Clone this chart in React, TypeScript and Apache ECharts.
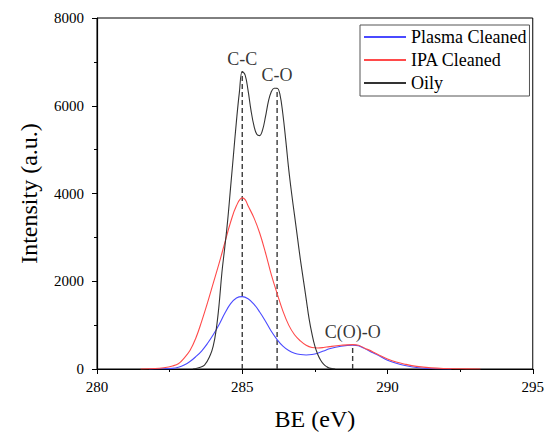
import React, { useEffect, useRef } from "react";
import * as echarts from "echarts";

const oilyBE = [283.3, 283.5, 283.7, 283.9, 284.0, 284.1, 284.2, 284.3, 284.4, 284.5, 284.6, 284.7, 284.8, 284.9, 285.0, 285.1, 285.2, 285.3, 285.4, 285.5, 285.6, 285.7, 285.8, 285.9, 286.0, 286.1, 286.2, 286.3, 286.4, 286.5, 286.6, 286.7, 286.8, 286.9, 287.0, 287.1, 287.2, 287.3, 287.4, 287.5, 287.6, 287.7, 287.8, 287.9, 288.0, 288.2];
const oilyIntensity = [0, 30, 90, 320, 520, 880, 1450, 2200, 2780, 3400, 4150, 4900, 5650, 6300, 6780, 6700, 6350, 5900, 5550, 5350, 5320, 5450, 5750, 6100, 6320, 6400, 6400, 6250, 5800, 5200, 4550, 4000, 3500, 3000, 2500, 2050, 1600, 1150, 800, 520, 330, 200, 110, 55, 20, 0];

const ipaBE = [281.5, 282.0, 282.3, 282.6, 282.8, 283.0, 283.2, 283.4, 283.6, 283.8, 284.0, 284.2, 284.4, 284.6, 284.8, 285.0, 285.1, 285.2, 285.4, 285.6, 285.8, 286.0, 286.2, 286.4, 286.6, 286.8, 287.0, 287.2, 287.4, 287.6, 287.8, 288.0, 288.4, 288.8, 289.0, 289.2, 289.5, 289.8, 290.0, 290.3, 290.6, 291.0, 291.5, 292.0, 292.5, 293.2];
const ipaIntensity = [0, 10, 30, 70, 120, 250, 420, 700, 1080, 1500, 1950, 2400, 2880, 3350, 3720, 3900, 3860, 3720, 3450, 3100, 2650, 2150, 1720, 1320, 1000, 780, 640, 540, 490, 480, 490, 510, 540, 555, 540, 480, 390, 290, 230, 160, 110, 60, 25, 10, 5, 0];

const plasmaBE = [281.8, 282.2, 282.6, 282.8, 283.0, 283.2, 283.4, 283.6, 283.8, 284.0, 284.2, 284.4, 284.6, 284.8, 285.0, 285.2, 285.4, 285.6, 285.8, 286.0, 286.2, 286.4, 286.6, 286.8, 287.0, 287.2, 287.4, 287.6, 287.8, 288.0, 288.4, 288.8, 289.0, 289.2, 289.5, 289.8, 290.0, 290.3, 290.6, 291.0, 291.5, 292.2];
const plasmaIntensity = [0, 5, 15, 40, 90, 170, 280, 410, 580, 780, 1010, 1270, 1490, 1620, 1650, 1600, 1480, 1300, 1090, 860, 670, 520, 420, 360, 330, 320, 330, 360, 410, 460, 520, 545, 530, 470, 370, 270, 200, 130, 80, 35, 10, 0];

const peakBE = [285.0, 286.2, 288.8];
const peakHeight = [6780, 6400, 555];
const peakLabels = ["C-C", "C-O", "C(O)-O"];

const seriesNames = ["Plasma Cleaned", "IPA Cleaned", "Oily"];
const yTicks = [0, 2000, 4000, 6000, 8000];
const xTicks = [280, 285, 290, 295];

const FONT = "'Times New Roman', 'Liberation Serif', serif";

function pairs(xs: number[], ys: number[]) {
  return xs.map((x, i) => [x, ys[i]]);
}

export default function App() {
  const ref = useRef<HTMLDivElement>(null);
  useEffect(() => {
    document.body.style.margin = "0";
    if (!ref.current) return;
    const chart = echarts.init(ref.current, null, { renderer: "svg" });
    const dashed = peakBE.map((x, i) => ({
      type: "line",
      name: "peak-" + peakLabels[i],
      data: [
        [x, 0],
        [x, peakHeight[i]],
      ],
      symbol: "none",
      silent: true,
      lineStyle: { color: "#3a3a3a", width: 1.4, type: [5, 3] },
      z: 1,
    }));
    chart.setOption({
      animation: false,
      backgroundColor: "#fff",
      textStyle: { fontFamily: FONT },
      grid: {
        left: 97,
        right: 12,
        top: 18,
        bottom: 61,
        show: true,
        borderColor: "#000",
        borderWidth: 1,
      },
      legend: {
        data: seriesNames,
        orient: "vertical",
        left: 360,
        top: 25,
        itemWidth: 42,
        itemHeight: 14,
        itemGap: 5,
        itemStyle: { opacity: 0 },
        padding: [3, 3, 4, 3],
        borderColor: "#555",
        borderWidth: 1,
        backgroundColor: "#fff",
        textStyle: { fontFamily: FONT, fontSize: 18, color: "#000" },
        itemTextGap: 7,
      },
      xAxis: {
        type: "value",
        min: xTicks[0],
        max: xTicks[xTicks.length - 1],
        interval: 5,
        name: "BE (eV)",
        nameLocation: "middle",
        nameGap: 38,
        nameTextStyle: { fontFamily: FONT, fontSize: 24, color: "#000" },
        axisLine: { show: true, lineStyle: { color: "#000", width: 1.2 } },
        axisTick: { show: true, inside: false, length: 5, lineStyle: { color: "#000" } },
        minorTick: { show: true, splitNumber: 2, length: 3, lineStyle: { color: "#000" } },
        splitLine: { show: false },
        axisLabel: { fontFamily: FONT, fontSize: 15, color: "#000", margin: 10, formatter: (v: number) => String(v) },
      },
      yAxis: {
        type: "value",
        min: yTicks[0],
        max: yTicks[yTicks.length - 1],
        interval: 2000,
        name: "Intensity (a.u.)",
        nameLocation: "middle",
        nameGap: 56,
        nameTextStyle: { fontFamily: FONT, fontSize: 24, color: "#000" },
        axisLine: { show: true, lineStyle: { color: "#000", width: 1.2 } },
        axisTick: { show: true, inside: false, length: 5, lineStyle: { color: "#000" } },
        minorTick: { show: true, splitNumber: 2, length: 3, lineStyle: { color: "#000" } },
        splitLine: { show: false },
        axisLabel: { fontFamily: FONT, fontSize: 15, color: "#000", margin: 13, formatter: (v: number) => String(v) },
      },
      series: [
        ...dashed,
        {
          type: "line",
          name: seriesNames[0],
          data: pairs(plasmaBE, plasmaIntensity),
          smooth: 0.4,
          symbol: "none",
          lineStyle: { color: "#4a4aff", width: 1.1 },
          itemStyle: { color: "#4a4aff" },
          z: 3,
        },
        {
          type: "line",
          name: seriesNames[1],
          data: pairs(ipaBE, ipaIntensity),
          smooth: 0.4,
          symbol: "none",
          lineStyle: { color: "#ff4a4a", width: 1.1 },
          itemStyle: { color: "#ff4a4a" },
          z: 3,
        },
        {
          type: "line",
          name: seriesNames[2],
          data: pairs(oilyBE, oilyIntensity),
          smooth: 0.4,
          symbol: "none",
          lineStyle: { color: "#333", width: 1.1 },
          itemStyle: { color: "#333" },
          z: 3,
        },
        {
          type: "scatter",
          name: "peak-labels",
          data: peakBE.map((x, i) => ({ value: [x, peakHeight[i]], name: peakLabels[i] })),
          symbolSize: 0,
          itemStyle: { color: "rgba(0,0,0,0)" },
          silent: true,
          labelLayout: { hideOverlap: false },
          label: {
            show: true,
            position: "top",
            distance: 4,
            formatter: (p: any) => p.name,
            fontFamily: FONT,
            fontSize: 18,
            color: "#000",
          },
          z: 4,
        },
      ],
    });
    return () => chart.dispose();
  }, []);
  return <div ref={ref} style={{ width: 547, height: 436 }} />;
}
